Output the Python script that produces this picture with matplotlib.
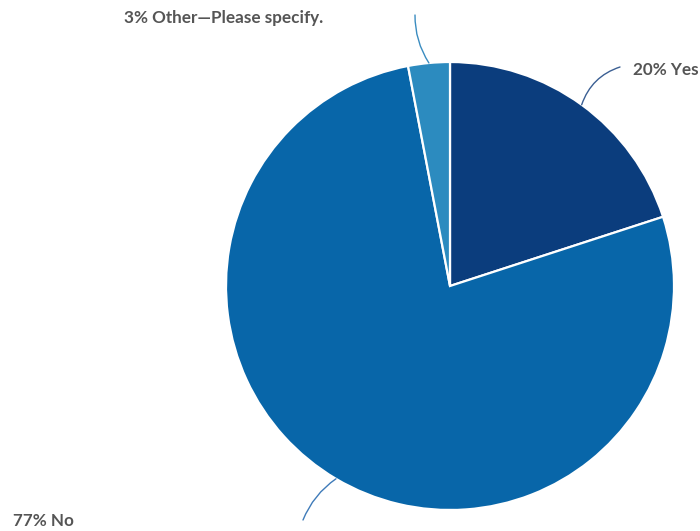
import numpy as np
import matplotlib
matplotlib.use("Agg")
import matplotlib.pyplot as plt

labels = ["Yes", "No", "Other—Please specify."]
values = [20, 77, 3]
colors = ["#0b3d7d", "#0866a9", "#2c8bbf"]

W, H = 700, 531
fig = plt.figure(figsize=(7, 5.31), dpi=100)
ax = fig.add_axes([0, 0, 1, 1])

cx, cy, r = 450, H - 286, 224
wedges, _ = ax.pie(values, colors=colors, startangle=90, counterclock=False,
                   center=(cx, cy), radius=r,
                   wedgeprops=dict(edgecolor="white", linewidth=1.6), frame=True)
ax.set_xlim(0, W)
ax.set_ylim(0, H)
ax.set_aspect("equal")
ax.axis("off")

# label layout (pixel coords, top-left origin)
text_pos = [(633, 70), (13, 521), (124, 18)]
line_end = [(620, 67), (303, 520), (415, 15)]
rads = [0.25, -0.15, 0.15]
line_cols = ["#3b5f93", "#3f7bb9", "#3a8cc0"]

for w, v, lab, tp, le, rd, lc in zip(wedges, values, labels, text_pos, line_end, rads, line_cols):
    ang = np.deg2rad((w.theta1 + w.theta2) / 2)
    px, py = cx + r * np.cos(ang), cy + r * np.sin(ang)
    ax.annotate("", xy=(px, py), xytext=(le[0], H - le[1]),
                arrowprops=dict(arrowstyle="-", color=lc, lw=1.0,
                                connectionstyle=f"arc3,rad={rd}",
                                shrinkA=0, shrinkB=0))
    ax.text(tp[0], H - tp[1], f"{v}% {lab}", ha="left", va="center",
            fontsize=12.3, fontweight="bold", color="#555555", family="Lato")

fig.savefig("out.png", dpi=100, facecolor="white")
